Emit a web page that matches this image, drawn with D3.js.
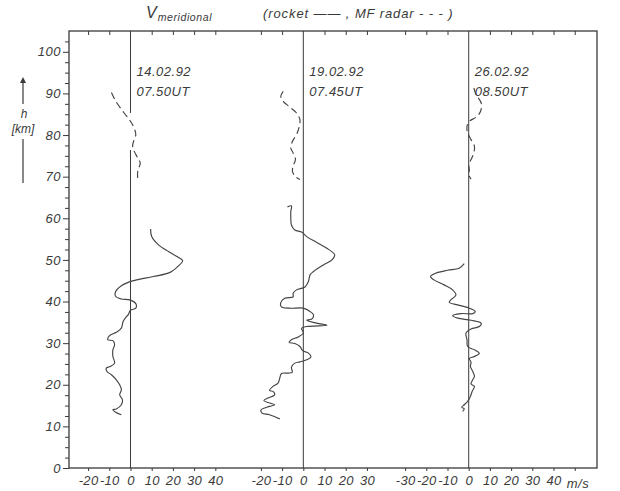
<!DOCTYPE html>
<html><head><meta charset="utf-8">
<script src="https://cdn.jsdelivr.net/npm/d3@7"></script>
<style>
html,body{margin:0;padding:0;background:#fff;}
svg{display:block;}
text{font-family:"Liberation Sans","DejaVu Sans",sans-serif;font-style:italic;fill:#3a3a3a;}
</style></head>
<body><svg id="c" width="620" height="491"></svg>
<script>
// ---------- data ----------
const panelDates = ["14.02.92", "19.02.92", "26.02.92"];
const panelTimes = ["07.50UT", "07.45UT", "08.50UT"];
const yTicks = [0,10,20,30,40,50,60,70,80,90,100];
const xTickLabels1 = [-20,-10,0,10,20,30,40];
const xTickLabels2 = [-20,-10,0,10,20,30];
const xTickLabels3 = [-30,-20,-10,0,10,20,30,40];
const unitLabel = "m/s";

// rocket profiles: [velocity m/s, altitude km]
const rocket1 = [[9.5,57.4],[10,55.6],[13.2,53.6],[17.9,52.0],[21.9,50.8],[24.6,49.8],[22.7,48.6],[18.7,47.0],[10.8,46.0],[2.9,45.2],[-1.1,44.6],[-4.3,43.8],[-7,42.4],[-7,41.2],[-4.3,40.6],[-0.3,40.4],[2.5,39.5],[2.5,38.4],[0,37.9],[-1.1,36.8],[-1.9,36.4],[-3.5,35.2],[-4.3,33.6],[-6.7,32.6],[-9.9,31.8],[-10.7,30.8],[-8.3,30.6],[-7.5,29.6],[-8.3,28.4],[-8.3,26.8],[-7.5,25.2],[-9.5,24.4],[-11.4,24.0],[-11.1,23.2],[-9,22.4],[-6.7,21.2],[-5.1,20.0],[-4.3,18.8],[-5.1,17.6],[-3.8,16.4],[-4.3,15.2],[-6.7,14.2],[-8.3,14.0],[-7,13.4],[-4.3,12.8]];
const rocket2 = [[-7.5,62.7],[-5.6,63.0],[-5.9,61.6],[-5.9,60.1],[-5.6,58.4],[-4.0,57.2],[-0.8,56.7],[1.6,55.6],[6.3,54.2],[11.1,52.8],[14.8,51.2],[13.5,50.0],[9.5,48.8],[4.8,47.2],[3.2,46.4],[2.4,44.8],[0.8,43.5],[-3.2,42.8],[-4.8,42.0],[-4.8,41.1],[-8.8,40.8],[-10.7,39.6],[-10.3,38.7],[-6.4,38.4],[0,38.4],[3.2,37.6],[4.8,36.8],[4.0,35.8],[1.6,35.5],[6.3,34.8],[11.1,34.3],[1.6,34.0],[-0.8,33.6],[0,32.4],[-2.4,31.5],[-5.6,30.8],[-6.7,30.2],[-4.0,29.9],[-1.6,29.2],[-0.3,28.2],[2.4,27.6],[3.6,26.7],[1.6,26.0],[-1.6,25.5],[-4.0,25.2],[-5.6,24.2],[-5.2,23.0],[-7.1,22.8],[-10.3,22.7],[-11.1,21.6],[-11.9,20.4],[-14.3,19.6],[-15.9,18.6],[-14.3,18.4],[-13.5,17.6],[-16.7,16.8],[-18.6,16.2],[-15.9,15.6],[-13.5,15.2],[-15.9,14.8],[-19.9,14.0],[-19.5,13.2],[-15.9,12.8],[-11.1,11.8]];
const rocket3 = [[-2.1,49.1],[-4.5,48.0],[-10,47.5],[-15.6,46.8],[-18,46.0],[-16.4,45.2],[-11.6,44.0],[-7.6,42.8],[-6.0,41.6],[-8.4,40.4],[-9.2,39.8],[-5.2,39.2],[0.3,38.4],[3.1,37.6],[1.9,37.1],[-3.7,37.1],[-7.6,36.6],[-5.2,36.0],[1.1,35.5],[5.9,34.8],[5.0,34.0],[1.1,33.4],[-1.3,32.4],[-0.8,30.8],[-0.5,29.2],[2.7,28.4],[5.0,27.6],[2.7,26.8],[0.3,26.3],[1.1,25.4],[0.8,24.4],[1.9,23.2],[2.7,22.0],[1.9,21.2],[1.1,20.2],[2.7,19.6],[1.6,18.4],[0.8,17.2],[-0.5,16.0],[-2.1,15.2],[-3.3,14.6],[-2.1,14.2],[-2.9,13.6]];
// MF radar profiles
const radar1 = [[-9,90.2],[-6.9,88.1],[-3,85.3],[0,83.3],[2,81.3],[2.5,80.1],[1,77.3],[3.4,74.5],[4.6,73.3],[3.4,71.3],[3.4,69.3]];
const radar2 = [[-9.5,90.5],[-10.6,89.3],[-9.5,88.1],[-6.3,86.7],[-3.2,85.3],[-1.6,83.7],[-1.9,82.1],[-3.2,80.1],[-5.1,78.5],[-5.9,76.9],[-4.8,75.7],[-3.7,74.1],[-4.8,72.6],[-5.1,71.2],[-3.5,69.9],[-1.6,69.3]];
const radar3 = [[2.4,91.3],[3.5,89.7],[5.9,87.7],[5.6,85.7],[3.5,84.3],[0.3,83.3],[-0.8,82.1],[-0.5,80.5],[1.1,78.9],[2.7,77.3],[2.4,75.7],[1.1,74.1],[0,72.9],[0.3,71.7],[0,70.5],[1.1,69.4]];

// ---------- layout ----------
const svg = d3.select("#c");
const L = 69, R = 597, T = 31, B = 468;
const x = d3.scaleLinear().domain([-29, 220]).range([L, R]);
const y = d3.scaleLinear().domain([0, 105]).range([B, T]);
const offsets = [0, 81.5, 159.5];
const ink = "#3a3a3a";
const lineInk = "#444";

const panels = [
  {off: offsets[0], rocket: rocket1, radar: radar1, top: [-20,-10,10,20,30,40], bottom: xTickLabels1, gaps: [[76.4, 85.3]]},
  {off: offsets[1], rocket: rocket2, radar: radar2, top: [-20,-10,10,20,30], bottom: xTickLabels2, gaps: []},
  {off: offsets[2], rocket: rocket3, radar: radar3, top: [-30,-20,-10,10,20,30,40,50], bottom: xTickLabels3.concat([50]), gaps: []}
];

// frame
svg.append("rect").attr("x", L).attr("y", T).attr("width", R - L).attr("height", B - T)
  .attr("fill", "none").attr("stroke", ink).attr("stroke-width", 1.3);

function styleText(sel, ls) {
  sel.attr("font-size", 13).style("font-family", "Liberation Sans").style("font-style", "italic")
     .attr("fill", ink).style("letter-spacing", (ls === undefined ? 0.5 : ls) + "px");
}
const fmt = d => String(d); // plain hyphen minus as in the original

// y axis
const yAxis = d3.axisLeft(y).tickValues(yTicks).tickSize(6).tickPadding(2).tickFormat(fmt);
const gy = svg.append("g").attr("transform", `translate(${L},0)`).call(yAxis);
gy.select(".domain").remove();
gy.selectAll("line").attr("stroke", ink).attr("stroke-width", 1);
styleText(gy.selectAll("text"));
const minor = d3.range(0, 105, 2.5).filter(v => v % 10 !== 0);
const gym = svg.append("g").attr("transform", `translate(${L},0)`)
  .call(d3.axisLeft(y).tickValues(minor).tickSize(4).tickFormat(""));
gym.select(".domain").remove();
gym.selectAll("line").attr("stroke", ink).attr("stroke-width", 1);

// y label
const yl = svg.append("g");
svg.append("defs").append("marker").attr("id", "ah").attr("viewBox", "0 0 10 10").attr("refX", 5).attr("refY", 5)
  .attr("markerWidth", 5).attr("markerHeight", 7).attr("orient", "auto")
  .append("path").attr("d", "M0,0 L10,5 L0,10 z").attr("fill", ink);
yl.append("line").attr("x1", 23).attr("x2", 23).attr("y1", 104).attr("y2", 80)
  .attr("stroke", ink).attr("stroke-width", 1.2).attr("marker-end", "url(#ah)");
yl.append("text").attr("x", 24).attr("y", 118).attr("text-anchor", "middle").attr("font-size", 12).text("h");
yl.append("text").attr("x", 23).attr("y", 133).attr("text-anchor", "middle").attr("font-size", 12).text("[km]");
yl.append("line").attr("x1", 23).attr("x2", 23).attr("y1", 139).attr("y2", 183).attr("stroke", ink).attr("stroke-width", 1.2);

const lineGen = (off) => d3.line().x(d => x(d[0] + off)).y(d => y(d[1])).curve(d3.curveCatmullRom.alpha(0.5));

panels.forEach((p, i) => {
  const px = d3.scaleLinear().domain([-30, 60]).range([x(p.off - 30), x(p.off + 60)]);
  // zero line with optional gaps
  let segs = [[0, 105]];
  p.gaps.forEach(g => { segs = segs.flatMap(s => (g[0] > s[0] && g[1] < s[1]) ? [[s[0], g[0]], [g[1], s[1]]] : [s]); });
  svg.append("g").selectAll("line").data(segs).join("line")
    .attr("x1", px(0)).attr("x2", px(0)).attr("y1", d => y(d[0])).attr("y2", d => y(d[1]))
    .attr("stroke", ink).attr("stroke-width", 1);
  // bottom axis
  const gb = svg.append("g").attr("transform", `translate(0,${B})`)
    .call(d3.axisBottom(px).tickValues(p.bottom).tickSize(3).tickPadding(5).tickFormat(d => d === 50 ? "" : fmt(d)));
  gb.select(".domain").remove();
  gb.selectAll("line").attr("stroke", ink);
  styleText(gb.selectAll("text"), 0.3);
  // top ticks
  const gt = svg.append("g").attr("transform", `translate(0,${T})`)
    .call(d3.axisTop(px).tickValues(p.top).tickSize(-4).tickFormat(""));
  gt.select(".domain").remove();
  gt.selectAll("line").attr("stroke", ink);
  // rocket
  svg.append("path").datum(p.rocket).attr("d", lineGen(p.off)).attr("fill", "none")
    .attr("stroke", lineInk).attr("stroke-width", 1.15).attr("stroke-linejoin", "round");
  // radar
  svg.append("path").datum(p.radar).attr("d", lineGen(p.off)).attr("fill", "none")
    .attr("stroke", lineInk).attr("stroke-width", 1.15).attr("stroke-dasharray", "7,4");
  // date labels
  styleText(svg.append("text").attr("x", px(0) + 6).attr("y", y(94.3)).text(panelDates[i]));
  styleText(svg.append("text").attr("x", px(0) + 6).attr("y", y(89.5)).text(panelTimes[i]));
  if (i === 2) {
    styleText(svg.append("text").attr("x", px(50) - 8).attr("y", B + 20).text(unitLabel));
  }
});

// title
const tt = svg.append("text").attr("x", 146).attr("y", 18);
tt.append("tspan").attr("font-size", 16).text("V");
tt.append("tspan").attr("font-size", 10.5).attr("dy", 3).attr("dx", 1).style("letter-spacing", "0.6px").text("meridional");
svg.append("text").attr("x", 263).attr("y", 18).attr("font-size", 13).style("letter-spacing", "0.9px")
  .text("(rocket —— , MF radar - - - )");
</script></body></html>
